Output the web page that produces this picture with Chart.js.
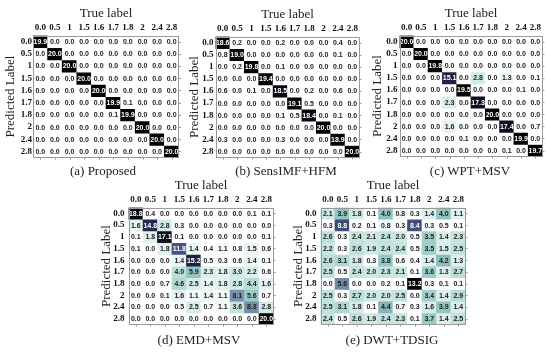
<!DOCTYPE html>
<html>
<head>
<meta charset="utf-8">
<script src="https://cdn.jsdelivr.net/npm/chart.js@4.4.1/dist/chart.umd.min.js"></script>
<style>
    body { margin: 0; background: #fff; }
    #wrap { position: relative; width: 550px; height: 356px; overflow: hidden; }
    canvas { position: absolute; }
    .cap {
        position: absolute;
        transform: translate(-50%, -50%);
        font: 13px "Liberation Serif", "Times New Roman", serif;
        color: #222;
        white-space: nowrap;
    }
</style>
</head>
<body>
<div id="wrap">
    <canvas id="cmA"></canvas>
    <canvas id="cmB"></canvas>
    <canvas id="cmC"></canvas>
    <canvas id="cmD"></canvas>
    <canvas id="cmE"></canvas>
    <div class="cap" style="left:103px;top:171px">(a) Proposed</div>
    <div class="cap" style="left:286px;top:171px">(b) SensIMF+HFM</div>
    <div class="cap" style="left:470px;top:171px">(c) WPT+MSV</div>
    <div class="cap" style="left:199px;top:340px">(d) EMD+MSV</div>
    <div class="cap" style="left:392px;top:340px">(e) DWT+TDSIG</div>
</div>
<script>
// ============================================
// Confusion matrices (rows = predicted, cols = true)
// ============================================

const trueLabels = ['0.0', '0.5', '1', '1.5', '1.6', '1.7', '1.8', '2', '2.4', '2.8'];
const predLabels = ['0.0', '0.5', '1', '1.5', '1.6', '1.7', '1.8', '2', '2.4', '2.8'];

const proposed = [
    [19.9, 0, 0, 0, 0, 0, 0, 0, 0, 0],
    [0, 20.0, 0, 0, 0, 0, 0, 0, 0, 0],
    [0, 0, 20.0, 0, 0, 0, 0, 0, 0, 0],
    [0, 0, 0, 20.0, 0, 0, 0, 0, 0, 0],
    [0, 0, 0, 0, 20.0, 0, 0, 0, 0, 0],
    [0, 0, 0, 0, 0, 19.9, 0.1, 0, 0, 0],
    [0, 0, 0, 0, 0, 0.1, 19.9, 0, 0, 0],
    [0, 0, 0, 0, 0, 0, 0, 20.0, 0, 0],
    [0, 0, 0, 0, 0, 0, 0, 0, 20.0, 0],
    [0, 0, 0, 0, 0, 0, 0, 0, 0, 20.0]
];

const sensImfHfm = [
    [18.6, 0.2, 0, 0, 0.2, 0, 0, 0, 0.4, 0],
    [0.8, 19.0, 0, 0, 0, 0, 0, 0, 0.1, 0],
    [0, 0.2, 19.8, 0, 0.1, 0, 0, 0, 0, 0],
    [0, 0, 0, 19.4, 0, 0, 0, 0, 0, 0],
    [0.6, 0, 0.1, 0, 18.5, 0, 0.2, 0, 0.6, 0],
    [0, 0, 0, 0, 0, 19.1, 0.5, 0, 0, 0],
    [0, 0, 0, 0, 0.1, 0.5, 18.4, 0, 0.1, 0],
    [0, 0, 0, 0, 0, 0, 0, 20.0, 0, 0],
    [0.3, 0, 0, 0, 0.3, 0, 0, 0, 18.9, 0],
    [0, 0, 0, 0, 0, 0, 0, 0, 0, 20.0]
];

const wptMsv = [
    [20.0, 0, 0, 0, 0, 0, 0, 0, 0, 0],
    [0, 20.0, 0, 0, 0, 0, 0, 0, 0, 0],
    [0, 0, 19.8, 0, 0, 0, 0, 0, 0, 0],
    [0, 0, 0, 15.1, 0, 2.8, 0, 1.3, 0, 0.1],
    [0, 0, 0, 0, 19.5, 0, 0, 0, 0.1, 0],
    [0, 0, 0, 2.3, 0, 17.3, 0, 0, 0, 0],
    [0, 0, 0, 0, 0, 0, 20.0, 0, 0, 0],
    [0, 0, 0, 1.6, 0, 0, 0, 17.4, 0, 0.7],
    [0, 0, 0, 0, 0.1, 0, 0, 0, 19.9, 0],
    [0, 0, 0, 0, 0, 0, 0, 0.1, 0, 19.7]
];

const emdMsv = [
    [18.8, 0.4, 0, 0, 0, 0, 0, 0, 0.1, 0.1],
    [1.6, 14.8, 2.8, 0.3, 0, 0, 0, 0, 0, 0],
    [0.1, 1.8, 17.1, 0.1, 0, 0, 0, 0, 0, 0.1],
    [0.1, 0, 1.8, 11.8, 1.4, 0.4, 1.1, 0.8, 1.5, 0.6],
    [0, 0, 0, 1.4, 15.2, 0.5, 0.3, 0.6, 1.4, 0.1],
    [0, 0, 0, 4.0, 5.9, 2.3, 1.8, 3.0, 2.2, 0.6],
    [0, 0, 0.7, 4.6, 2.5, 1.4, 1.8, 2.8, 4.4, 1.6],
    [0, 0, 0.1, 1.6, 1.1, 1.4, 1.1, 8.1, 5.6, 0.7],
    [0, 0, 0, 0.5, 2.5, 0.7, 1.1, 3.6, 8.3, 2.8],
    [0, 0, 0, 0, 0, 0, 0, 0, 0, 20.0]
];

const dwtTdsig = [
    [2.1, 3.9, 1.8, 0.1, 4.0, 0.8, 0.3, 1.4, 4.0, 1.1],
    [0.3, 8.8, 0.2, 0.1, 0.8, 0.3, 8.4, 0.3, 0.5, 0.1],
    [2.6, 0.3, 2.4, 2.1, 2.4, 2.0, 0.5, 3.5, 1.4, 2.3],
    [2.2, 0.3, 2.6, 1.9, 2.4, 2.4, 0.5, 3.5, 1.5, 2.5],
    [2.6, 3.1, 1.8, 0.3, 3.8, 0.6, 0.4, 1.4, 4.2, 1.3],
    [2.5, 0.5, 2.4, 2.0, 2.3, 2.1, 0.1, 3.6, 1.3, 2.7],
    [0.0, 5.6, 0.0, 0.0, 0.2, 0.1, 13.2, 0.3, 0.1, 0.1],
    [2.5, 0.3, 2.7, 2.0, 2.0, 2.5, 0.0, 3.4, 1.4, 2.9],
    [2.5, 3.1, 1.8, 0.1, 4.4, 0.7, 0.3, 1.6, 3.9, 1.4],
    [2.4, 0.5, 2.6, 1.9, 2.4, 2.3, 0.1, 3.7, 1.4, 2.5]
];

// white -> teal -> slate -> black
const cmapStops = [
    [0.00, '#ffffff'], [0.04, '#ffffff'], [0.08, '#e4f3f1'], [0.16, '#cbe7e3'],
    [0.22, '#b5dbd6'], [0.30, '#8fc4c0'], [0.40, '#7b93aa'], [0.52, '#5a6690'],
    [0.60, '#474f80'], [0.67, '#404a76'], [0.76, '#1f2040'], [0.88, '#0c0c18'],
    [1.00, '#000000']
];

function hexToRgb(h) {
    return [parseInt(h.slice(1, 3), 16), parseInt(h.slice(3, 5), 16), parseInt(h.slice(5, 7), 16)];
}

function cmap(t) {
    t = Math.max(0, Math.min(1, t));
    for (let i = 1; i < cmapStops.length; i++) {
        if (t <= cmapStops[i][0]) {
            const [t0, c0] = cmapStops[i - 1];
            const [t1, c1] = cmapStops[i];
            const f = (t - t0) / (t1 - t0);
            const a = hexToRgb(c0), b = hexToRgb(c1);
            const rgb = a.map((v, k) => Math.round(v + (b[k] - v) * f));
            return `rgb(${rgb[0]},${rgb[1]},${rgb[2]})`;
        }
    }
    return '#000';
}

// frame, small edge ticks and the numbers inside the cells
const cellPlugin = {
    id: 'cells',
    afterDatasetsDraw(chart) {
        const ctx = chart.ctx;
        const values = chart.options.plugins.cells.values;
        const max = Math.max(...values.flat());
        ctx.save();
        ctx.font = 'bold 7px "Liberation Sans", Arial, sans-serif';
        ctx.textAlign = 'center';
        ctx.textBaseline = 'middle';
        chart.data.datasets.forEach((ds, i) => {
            const meta = chart.getDatasetMeta(i);
            meta.data.forEach((bar, j) => {
                const v = values[i][j];
                ctx.fillStyle = v / max >= 0.55 ? '#ffffff' : '#1a1a1a';
                ctx.fillText(v.toFixed(1), bar.x, (bar.y + bar.base) / 2 + 0.5);
            });
        });
        const a = chart.chartArea;
        ctx.strokeStyle = '#9a9a9a';
        ctx.lineWidth = 1;
        ctx.strokeRect(Math.round(a.left) + 0.5, Math.round(a.top) + 0.5,
            Math.round(a.right - a.left) - 1, Math.round(a.bottom - a.top) - 1);
        ctx.beginPath();
        const ys = chart.scales.y, xs = chart.scales.x;
        predLabels.forEach((_, i) => {
            const y = Math.round(ys.getPixelForValue(i + 0.5)) + 0.5;
            ctx.moveTo(a.right, y);
            ctx.lineTo(a.right + 2, y);
        });
        trueLabels.forEach((_, j) => {
            const x = Math.round(xs.getPixelForValue(j)) + 0.5;
            ctx.moveTo(x, a.bottom);
            ctx.lineTo(x, a.bottom + 2);
        });
        ctx.stroke();
        ctx.restore();
    }
};

const titleFont = { family: '"Liberation Serif", "Times New Roman", serif', size: 13, lineHeight: 1 };
const tickFont = { family: '"Liberation Serif", "Times New Roman", serif', size: 9, weight: 'bold' };

function renderMatrix(id, values, box) {
    const canvas = document.getElementById(id);
    const left = box.predX - 6.5;
    const top = box.titleY - 6.5;
    const w = Math.ceil(box.R - left + 4);
    const h = Math.ceil(box.B - top + 4);
    canvas.width = w;
    canvas.height = h;
    canvas.style.left = left + 'px';
    canvas.style.top = top + 'px';
    const max = Math.max(...values.flat());

    const datasets = values.map((row, i) => ({
        data: row.map(() => [i, i + 1]),
        backgroundColor: row.map(v => cmap(v / max)),
        borderWidth: 0,
        grouped: false,
        barPercentage: 1,
        categoryPercentage: 1
    }));

    return new Chart(canvas.getContext('2d'), {
        type: 'bar',
        data: { labels: trueLabels, datasets: datasets },
        options: {
            responsive: false,
            animation: false,
            devicePixelRatio: 1,
            layout: { padding: { left: 0, top: 0, right: w - (box.R - left), bottom: h - (box.B - top) } },
            plugins: {
                legend: { display: false },
                tooltip: { enabled: false },
                cells: { values: values }
            },
            scales: {
                x: {
                    type: 'category',
                    position: 'top',
                    offset: true,
                    grid: { display: false, drawTicks: false },
                    border: { display: false },
                    ticks: { font: tickFont, color: '#111', padding: 2, maxRotation: 0, autoSkip: false },
                    title: { display: true, text: 'True label', font: titleFont, color: '#222', padding: 0 },
                    afterFit: s => { s.height = box.T - top; }
                },
                y: {
                    type: 'linear',
                    min: 0,
                    max: predLabels.length,
                    reverse: true,
                    grid: { display: false, drawTicks: false },
                    border: { display: false },
                    afterBuildTicks: s => { s.ticks = predLabels.map((_, i) => ({ value: i + 0.5 })); },
                    ticks: {
                        font: tickFont, color: '#111', padding: box.tickPad, autoSkip: false,
                        callback: (v, idx) => predLabels[idx]
                    },
                    title: { display: true, text: 'Predicted Label', font: titleFont, color: '#222', padding: 0 },
                    afterFit: s => { s.width = box.L - left; }
                }
            }
        },
        plugins: [cellPlugin]
    });
}

renderMatrix('cmA', proposed,   { L: 33,  R: 179, T: 35,  B: 159, titleY: 13,  predX: 10.5, tickPad: 1 });
renderMatrix('cmB', sensImfHfm, { L: 215, R: 359, T: 36,  B: 160, titleY: 14,  predX: 194,  tickPad: 2 });
renderMatrix('cmC', wptMsv,     { L: 399, R: 542, T: 35,  B: 159, titleY: 13,  predX: 377,  tickPad: 2 });
renderMatrix('cmD', emdMsv,     { L: 128, R: 273, T: 207, B: 329, titleY: 185, predX: 106,  tickPad: 4 });
renderMatrix('cmE', dwtTdsig,   { L: 320, R: 465, T: 207, B: 329, titleY: 185, predX: 298,  tickPad: 4 });
</script>
</body>
</html>
